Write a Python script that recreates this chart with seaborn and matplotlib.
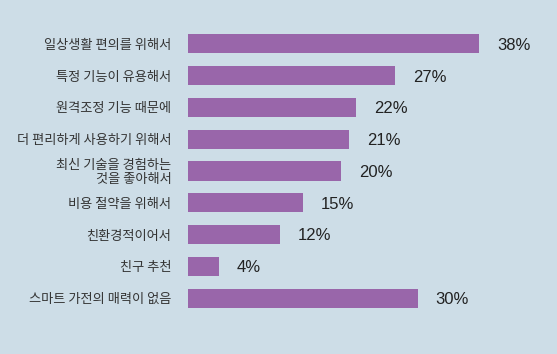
import numpy as np
import pandas as pd
import seaborn as sns
import matplotlib.pyplot as plt

# data
reasons = ['일상생활 편의를 위해서', '특정 기능이 유용해서', '원격조정 기능 때문에',
           '더 편리하게 사용하기 위해서', '최신 기술을 경험하는\n것을 좋아해서',
           '비용 절약을 위해서', '친환경적이어서', '친구 추천', '스마트 가전의 매력이 없음']
percent = [38, 27, 22, 21, 20, 15, 12, 4, 30]

bg = '#cddde7'
bar_color = '#9966aa'

sns.set_theme(style='white')
plt.rcParams['font.family'] = ['Noto Sans CJK KR', 'DejaVu Sans']

df = pd.DataFrame({'reason': reasons, 'percent': percent})

fig = plt.figure(figsize=(5.57, 3.54), dpi=100, facecolor=bg)
ax = fig.add_axes([188 / 557, 1 - 314 / 354, (557 - 188) / 557, 286 / 354])
ax.set_facecolor(bg)

sns.barplot(data=df, x='percent', y='reason', color=bar_color, width=0.6,
            saturation=1, linewidth=0, ax=ax)

ax.set_xlim(0, 48.2)
ax.set_ylim(len(reasons) - 0.5, -0.5)
ax.set_xlabel('')
ax.set_ylabel('')
ax.set_xticks([])
ax.tick_params(axis='y', length=0, pad=12, labelsize=9.5, labelcolor='#333333')
for lbl in ax.get_yticklabels():
    lbl.set_linespacing(1.05)
sns.despine(ax=ax, left=True, bottom=True)

for i, v in enumerate(percent):
    ax.annotate(f'{v}%', (v, i), xytext=(13, -1), textcoords='offset points',
                ha='left', va='center', fontsize=12, color='#222222',
                family=['Liberation Sans', 'DejaVu Sans'])

fig.savefig('out.png', dpi=100, facecolor=bg)
